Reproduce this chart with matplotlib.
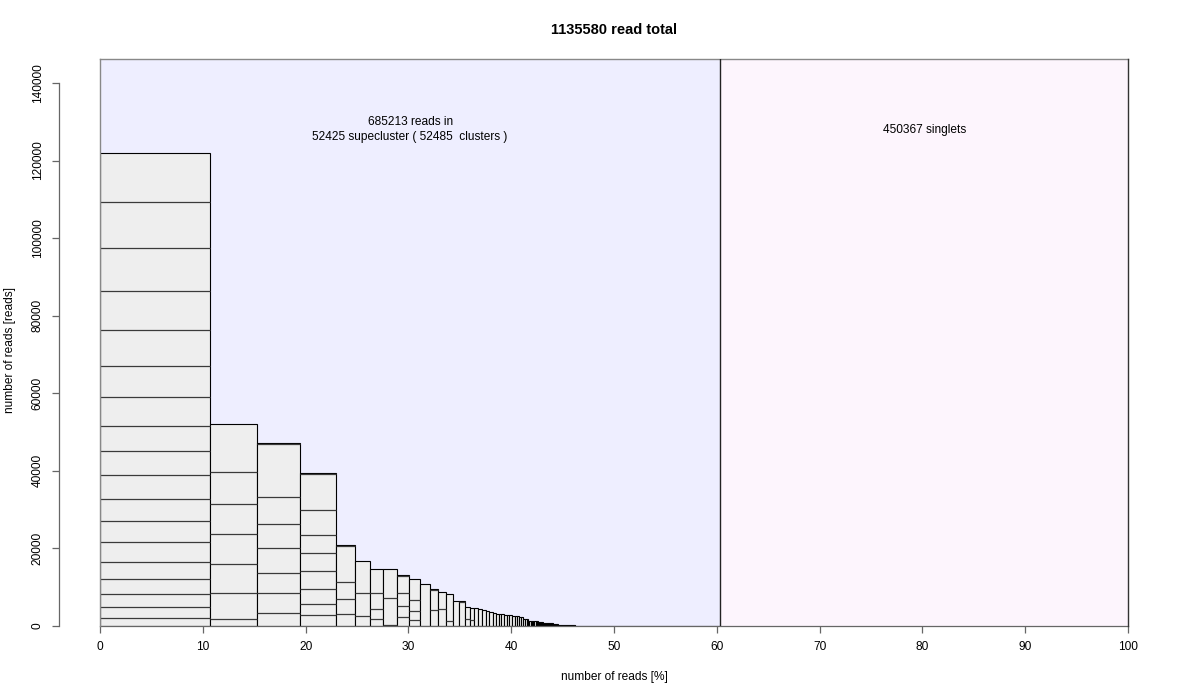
import numpy as np
import matplotlib
matplotlib.use("Agg")
import matplotlib.pyplot as plt
from matplotlib.patches import Rectangle

plt.rcParams['font.family'] = ['Liberation Sans', 'DejaVu Sans']

# totals printed on the chart
total_reads = 1135580
clustered_reads = 685213
singlet_reads = 450367
n_superclusters = 52425
n_clusters = 52485

# biggest superclusters (reads)
sc_reads = [121870, 52000, 47255, 39366, 20959, 16757, 14772, 14772, 13225, 12194,
            10828, 9539, 8765, 8172, 6522, 6522, 4976, 4718, 4563, 4383, 4125, 3900,
            3687, 3274]

# clusters inside the first superclusters, bottom to top
cluster_reads = [
    [2062, 2759, 3506, 3713, 4382, 5156, 5414, 5826, 6033, 6342, 6367, 7399, 8148,
     9126, 10130, 11165, 11858, 12484],
    [1727, 6703, 7477, 7734, 7889, 8171, 12299],
    [3274, 5156, 5311, 6291, 6342, 6805, 13816, 260],
    [2758, 2914, 3789, 4641, 4641, 4795, 6291, 9277, 260],
    [3016, 3867, 4460, 9356, 260],
    [2501, 6006, 8250],
    [1805, 2655, 4047, 6265],
    [180, 6961, 7631],
    [2398, 2681, 3351, 4535, 260],
    [1624, 2166, 2990, 5414],
    [10828],
    [4125, 5154, 260],
    [4383, 4382],
    [1289, 6883],
    [6522],
    [6262, 260],
    [1727, 3249],
    [1547, 3171],
]

# smaller superclusters, grouped by size
tail_reads = [3100, 2950, 2600, 2250, 1800, 1350, 950, 700, 450, 250, 150]
tail_count = [3, 3, 3, 2, 3, 8, 6, 15, 12, 40, 60]

# all the rest are tiny superclusters
rest_reads = 160819
rest_count = 52246

sizes = np.concatenate([sc_reads, np.repeat(tail_reads, tail_count)]).astype(float)
widths = sizes / total_reads * 100
lefts = np.concatenate([[0], np.cumsum(widths)[:-1]])
split = clustered_reads / total_reads * 100
ytop = 146190

fig = plt.figure(figsize=(12, 7), dpi=100)
ax = fig.add_axes([100 / 1200, 74 / 700, 1028 / 1200, 567 / 700])
ax.set_xlim(0, 100)
ax.set_ylim(0, ytop)

# background regions
ax.add_patch(Rectangle((0, 0), split, ytop, fc='#EEEEFF', ec='none', zorder=0))
ax.add_patch(Rectangle((split, 0), 100 - split, ytop, fc='#FDF5FD', ec='none', zorder=0))
ax.plot([0, 100], [ytop, ytop], color='#888888', lw=1, clip_on=False, zorder=4)
ax.plot([0, 0], [0, ytop], color='#888888', lw=1, clip_on=False, zorder=4)
ax.plot([100, 100], [0, ytop], color='#333333', lw=1, clip_on=False, zorder=4)
ax.plot([split, split], [0, ytop], color='#222222', lw=1, zorder=4)

# supercluster bars
ax.bar(lefts, sizes, widths, align='edge', color='#EEEEEE', edgecolor='black',
       linewidth=0.8, zorder=2)
rest_left = lefts[-1] + widths[-1]
ax.bar(rest_left, rest_reads / rest_count, rest_reads / total_reads * 100, align='edge',
       color='#EEEEEE', edgecolor='black', linewidth=0.8, zorder=2)

# cluster borders inside the bars
for i, parts in enumerate(cluster_reads):
    bounds = np.cumsum(parts)[:-1]
    if len(bounds):
        ax.hlines(bounds, lefts[i], lefts[i] + widths[i], colors='#3a3a3a', lw=0.9, zorder=3)

# texts
ax.text(split / 2, 128000, f"{clustered_reads} reads in\n{n_superclusters} supecluster ( {n_clusters}  clusters )",
        ha='center', va='center', fontsize=8.6, linespacing=1.25)
ax.text((split + 100) / 2, 128000, f"{singlet_reads} singlets", ha='center', va='center', fontsize=8.6)
fig.text(614 / 1200, 1 - 30 / 700, f"{total_reads} read total", ha='center', va='center',
         fontsize=10.5, fontweight='bold')
fig.text(614 / 1200, 1 - 677 / 700, "number of reads [%]", ha='center', va='center', fontsize=8.6)
fig.text(10 / 1200, 1 - 350 / 700, "number of reads [reads]", ha='center', va='center',
         rotation=90, fontsize=8.6)

# axes in R style
for s in ['top', 'right']:
    ax.spines[s].set_visible(False)
ax.spines['left'].set_position(('outward', 41 * 72 / 100))
ax.spines['left'].set_bounds(0, 140000)
ax.spines['bottom'].set_bounds(0, 100)
for s in ['left', 'bottom']:
    ax.spines[s].set_color('#666666')
    ax.spines[s].set_linewidth(0.9)
ax.set_xticks(range(0, 101, 10))
ax.set_yticks(range(0, 140001, 20000))
ax.tick_params(length=5, width=0.9, color='#666666', labelsize=8.6, pad=6)
for lab in ax.get_yticklabels():
    lab.set_rotation(90)
    lab.set_va('center')

fig.savefig("out.png", dpi=100)
